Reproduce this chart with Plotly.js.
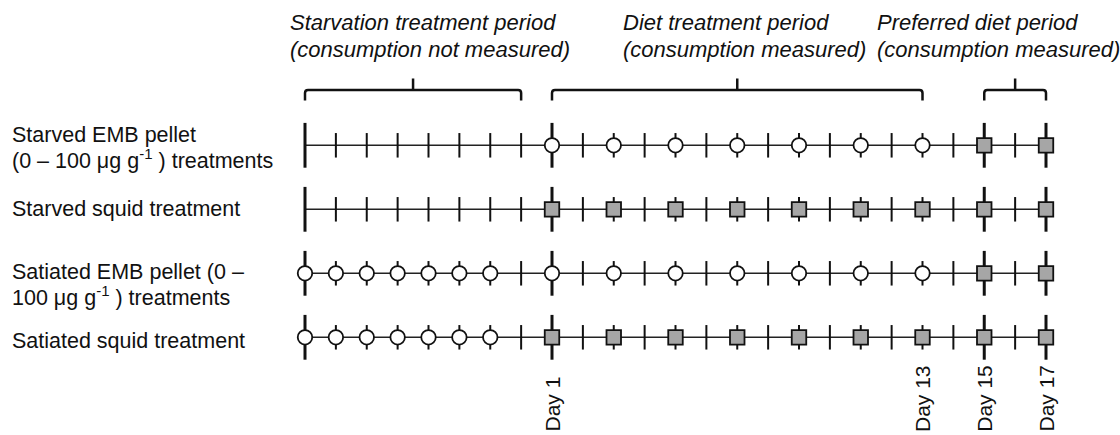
<!DOCTYPE html>
<html>
<head>
<meta charset="utf-8">
<script src="https://cdn.plot.ly/plotly-3.0.1.min.js"></script>
<style>html,body{margin:0;padding:0;background:#fff;}#chart{width:1120px;height:435px;}</style>
</head>
<body>
<div id="chart"></div>
<script>
// ---- data ----
const days = [-7,-6,-5,-4,-3,-2,-1,0,1,2,3,4,5,6,7,8,9,10,11,12,13,14,15,16,17];
const longTickDays = [-7, 1, 15, 17];
const rowLabels = [
  ['Starved EMB pellet', '(0 – 100 μg g<sup>-1</sup> ) treatments'],
  ['Starved squid treatment'],
  ['Satiated EMB pellet (0 –', '100 μg g<sup>-1</sup> ) treatments'],
  ['Satiated squid treatment']
];
const circleDays = [
  [1,3,5,7,9,11,13],
  [],
  [-7,-6,-5,-4,-3,-2,-1,1,3,5,7,9,11,13],
  [-7,-6,-5,-4,-3,-2,-1]
];
const squareDays = [
  [15,17],
  [1,3,5,7,9,11,13,15,17],
  [15,17],
  [1,3,5,7,9,11,13,15,17]
];
const periodNames = ['Starvation treatment period', 'Diet treatment period', 'Preferred diet period'];
const periodNotes = ['(consumption not measured)', '(consumption measured)', '(consumption measured)'];
const periodStart = [-7, 1, 15];
const periodEnd = [0, 13, 17];
const dayLabelDays = [1, 13, 15, 17];
const dayLabels = ['Day 1', 'Day 13', 'Day 15', 'Day 17'];

// ---- layout helpers (pixel geometry) ----
const W = 1120, H = 435;
const pxPerDay = 30.875, firstDayPx = 305;
const pxPerRow = 64, firstRowPx = 145.3;
const xr0 = days[0] - firstDayPx / pxPerDay;
const xr1 = xr0 + W / pxPerDay;
const yTop = -firstRowPx / pxPerRow;
const yBot = yTop + H / pxPerRow;
const py = p => 1 - p / H;           // pixel -> paper y
const ink = '#111111';
const fontFam = '"Liberation Sans", Arial, Helvetica, sans-serif';

const traces = [];
// horizontal row lines
rowLabels.forEach((_, r) => {
  traces.push({x: [days[0], days[days.length - 1]], y: [r, r], mode: 'lines',
    line: {color: '#222', width: 1.6}, hoverinfo: 'skip'});
});
// ticks (line-ns half length = 0.7 * size)
const sx = [], sy = [], lx = [], ly = [];
rowLabels.forEach((_, r) => {
  days.forEach(d => {
    if (longTickDays.includes(d)) { lx.push(d); ly.push(r); }
    else { sx.push(d); sy.push(r); }
  });
});
traces.push({x: sx, y: sy, mode: 'markers', hoverinfo: 'skip',
  marker: {symbol: 'line-ns', size: 17.5, color: ink, line: {color: ink, width: 2}}});
traces.push({x: lx, y: ly, mode: 'markers', hoverinfo: 'skip',
  marker: {symbol: 'line-ns', size: 32, color: ink, line: {color: ink, width: 3}}});
// circles & squares
const cx = [], cy = [], qx = [], qy = [];
circleDays.forEach((arr, r) => arr.forEach(d => { cx.push(d); cy.push(r); }));
squareDays.forEach((arr, r) => arr.forEach(d => { qx.push(d); qy.push(r); }));
traces.push({x: cx, y: cy, mode: 'markers', hoverinfo: 'skip',
  marker: {symbol: 'circle', size: 14.5, color: '#ffffff', line: {color: ink, width: 1.8}}});
traces.push({x: qx, y: qy, mode: 'markers', hoverinfo: 'skip',
  marker: {symbol: 'square', size: 14.5, color: '#a6a6a6', line: {color: ink, width: 1.8}}});

// brackets
const yHdata = -(firstRowPx - 90) / pxPerRow;
const yEndData = -(firstRowPx - 100.5) / pxPerRow;
const yTipData = -(firstRowPx - 78.5) / pxPerRow;
const rx = 3 / pxPerDay, ry = 3 / pxPerRow;
const shapes = periodStart.map((s, i) => {
  const e = periodEnd[i], m = (s + e) / 2;
  return {type: 'path', xref: 'x', yref: 'y',
    path: `M ${s},${yEndData} L ${s},${yHdata + ry} Q ${s},${yHdata} ${s + rx},${yHdata} ` +
          `L ${e - rx},${yHdata} Q ${e},${yHdata} ${e},${yHdata + ry} L ${e},${yEndData} ` +
          `M ${m},${yHdata} L ${m},${yTipData}`,
    line: {color: ink, width: 2.5}};
});

const annotations = [];
// period titles
const titleShift = [-17, 69, -109];
periodNames.forEach((t, i) => {
  [t, periodNotes[i]].forEach((line, k) => {
    annotations.push({x: periodStart[i], xref: 'x', xanchor: 'left', xshift: titleShift[i],
      y: py(23 + 26 * k), yref: 'paper', yanchor: 'middle', showarrow: false, text: line,
      font: {family: fontFam, size: 22, color: ink, style: 'italic'}});
  });
});
// row labels
const labelShift = [[10, -14], [0], [1, -23], [-4]];
rowLabels.forEach((lines, r) => {
  lines.forEach((line, k) => {
    annotations.push({x: 0, xref: 'paper', xanchor: 'left', xshift: 10,
      y: r, yref: 'y', yanchor: 'middle', yshift: labelShift[r][k], showarrow: false,
      text: line, align: 'left', font: {family: fontFam, size: 21.5, color: ink}});
  });
});
// day labels
dayLabelDays.forEach((d, i) => {
  annotations.push({x: d, xref: 'x', xanchor: 'center', y: 0, yref: 'paper', yanchor: 'bottom',
    yshift: 1, textangle: -90, showarrow: false, text: dayLabels[i],
    font: {family: fontFam, size: 21, color: ink}});
});

const layout = {
  width: W, height: H, margin: {l: 0, r: 0, t: 0, b: 0, pad: 0},
  paper_bgcolor: '#ffffff', plot_bgcolor: '#ffffff', showlegend: false,
  xaxis: {range: [xr0, xr1], visible: false, fixedrange: true},
  yaxis: {range: [yBot, yTop], visible: false, fixedrange: true},
  shapes: shapes, annotations: annotations
};
Plotly.newPlot('chart', traces, layout, {displayModeBar: false, staticPlot: true});
</script>
</body>
</html>
